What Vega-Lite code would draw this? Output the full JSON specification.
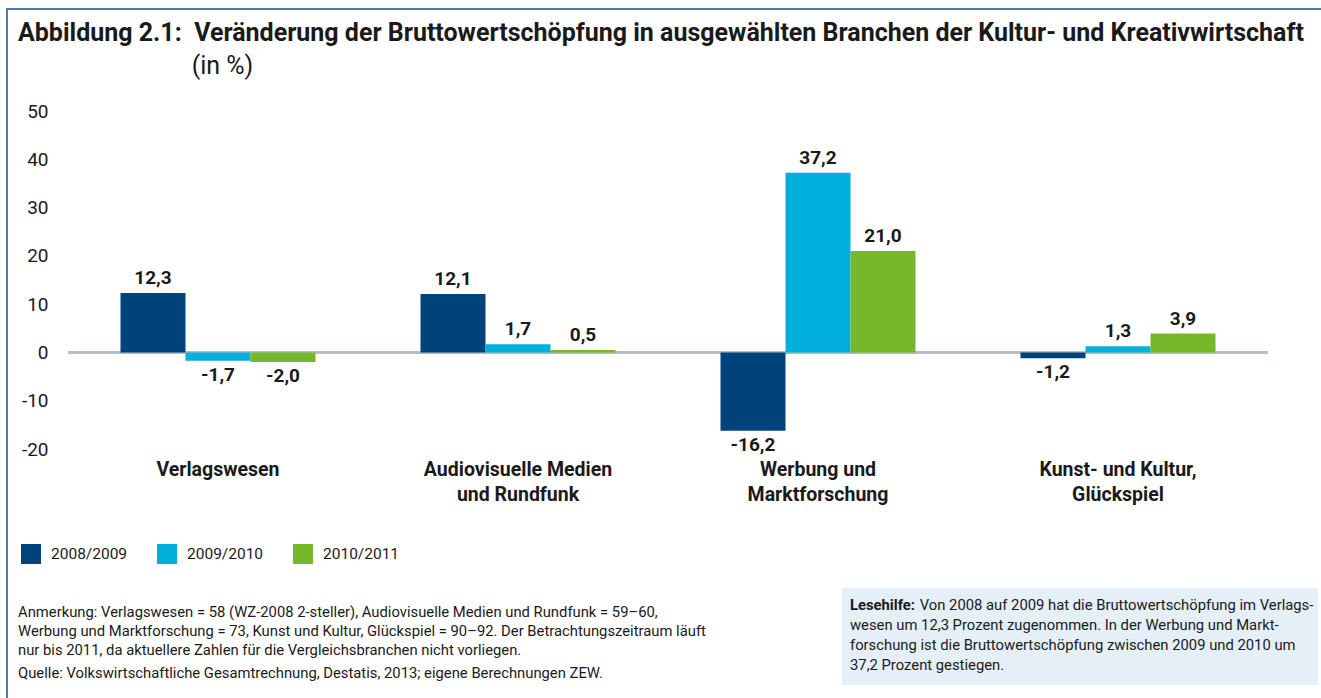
{
  "$schema": "https://vega.github.io/schema/vega-lite/v6.json",
  "padding": {"left": 6, "top": 8, "right": 0, "bottom": 0},
  "background": "white",
  "config": {
    "font": "Roboto",
    "view": {"stroke": null},
    "locale": {"number": {"decimal": ",", "thousands": ".", "grouping": [3], "currency": ["", " €"], "minus": "-"}}
  },
  "spacing": 0,
  "vconcat": [
    {"data": {"values": []}, "mark": "point", "width": 1330, "height": 2, "view": {"fill": "#4d7aa8", "stroke": null}},
    {
      "spacing": 10,
      "hconcat": [
        {"data": {"values": []}, "mark": "point", "width": 2, "height": 700, "view": {"fill": "#4d7aa8", "stroke": null}},
        {
          "spacing": 0,
          "vconcat": [
            {"data": {"values": []}, "mark": "point", "width": 1, "height": 11},
            {
              "spacing": 84,
              "vconcat": [
                {
                  "width": 1200,
                  "height": 338,
                  "title": {
                    "text": "Abbildung 2.1:\u00a0 Veränderung der Bruttowertschöpfung in ausgewählten Branchen der Kultur- und Kreativwirtschaft",
                    "subtitle": "\u200b\u00a0\u00a0\u00a0\u00a0\u00a0\u00a0\u00a0\u00a0\u00a0\u00a0\u00a0\u00a0\u00a0\u00a0\u00a0\u00a0\u00a0\u00a0\u00a0\u00a0\u00a0\u00a0\u00a0\u00a0\u00a0\u00a0\u00a0\u00a0(in %)",
                    "anchor": "start",
                    "frame": "group",
                    "dx": -50,
                    "fontSize": 25,
                    "fontWeight": "bold",
                    "color": "#1a1a1a",
                    "subtitleFontSize": 25,
                    "subtitleFontWeight": "normal",
                    "subtitleColor": "#1a1a1a",
                    "subtitlePadding": 8,
                    "offset": 23
                  },
                  "data": {
                    "values": [
                      {"branche": "Verlagswesen", "periode": "2008/2009", "wert": 12.3},
                      {"branche": "Verlagswesen", "periode": "2009/2010", "wert": -1.7},
                      {"branche": "Verlagswesen", "periode": "2010/2011", "wert": -2.0},
                      {"branche": "Audiovisuelle Medien und Rundfunk", "periode": "2008/2009", "wert": 12.1},
                      {"branche": "Audiovisuelle Medien und Rundfunk", "periode": "2009/2010", "wert": 1.7},
                      {"branche": "Audiovisuelle Medien und Rundfunk", "periode": "2010/2011", "wert": 0.5},
                      {"branche": "Werbung und Marktforschung", "periode": "2008/2009", "wert": -16.2},
                      {"branche": "Werbung und Marktforschung", "periode": "2009/2010", "wert": 37.2},
                      {"branche": "Werbung und Marktforschung", "periode": "2010/2011", "wert": 21.0},
                      {"branche": "Kunst- und Kultur, Glückspiel", "periode": "2008/2009", "wert": -1.2},
                      {"branche": "Kunst- und Kultur, Glückspiel", "periode": "2009/2010", "wert": 1.3},
                      {"branche": "Kunst- und Kultur, Glückspiel", "periode": "2010/2011", "wert": 3.9}
                    ]
                  },
                  "layer": [
                    {
                      "mark": {"type": "rule", "color": "#b5bdc3", "strokeWidth": 3},
                      "encoding": {
                        "y": {"datum": 0, "type": "quantitative", "scale": {"domain": [-20, 50], "nice": false},
                          "axis": {"values": [-20, -10, 0, 10, 20, 30, 40, 50], "title": null, "domain": false, "ticks": false, "labelPadding": 20, "labelFontSize": 19, "labelColor": "#1a1a1a", "gridColor": "#c9d0d6", "gridWidth": 1.5}}
                      }
                    },
                    {
                      "mark": {"type": "bar"},
                      "encoding": {
                        "x": {"field": "branche", "type": "nominal", "sort": null,
                          "scale": {"paddingInner": 0.35, "paddingOuter": 0.175},
                          "axis": {"title": null, "domain": false, "ticks": false, "labelAngle": 0, "labelFontSize": 19.5, "labelFontWeight": "bold", "labelColor": "#1a1a1a", "labelLineHeight": 25, "labelPadding": 11, "labelLimit": 0,
                            "labelExpr": "datum.value == 'Audiovisuelle Medien und Rundfunk' ? ['Audiovisuelle Medien', 'und Rundfunk'] : datum.value == 'Werbung und Marktforschung' ? ['Werbung und', 'Marktforschung'] : datum.value == 'Kunst- und Kultur, Glückspiel' ? ['Kunst- und Kultur,', 'Glückspiel'] : datum.value"}},
                        "xOffset": {"field": "periode", "type": "nominal", "sort": null, "scale": {"paddingInner": 0, "paddingOuter": 0}},
                        "y": {"field": "wert", "type": "quantitative"},
                        "color": {"field": "periode", "type": "nominal",
                          "scale": {"domain": ["2008/2009", "2009/2010", "2010/2011"], "range": ["#00437a", "#00afdb", "#77b82a"]},
                          "legend": {"title": null, "orient": "none", "legendX": 15, "legendY": 536, "direction": "horizontal", "symbolType": "square", "symbolSize": 400, "symbolStrokeWidth": 0, "symbolOpacity": 1, "labelFontSize": 15.5, "labelOffset": 10, "columnPadding": 29, "labelColor": "#1a1a1a", "padding": 0}}
                      }
                    },
                    {
                      "transform": [{"filter": "datum.wert >= 0"}],
                      "mark": {"type": "text", "baseline": "bottom", "dy": -5, "fontSize": 19, "fontWeight": "bold", "color": "#1a1a1a"},
                      "encoding": {
                        "x": {"field": "branche", "type": "nominal", "sort": null},
                        "xOffset": {"field": "periode", "type": "nominal", "sort": null},
                        "y": {"field": "wert", "type": "quantitative"},
                        "text": {"field": "wert", "type": "quantitative", "format": ".1f"}
                      }
                    },
                    {
                      "transform": [{"filter": "datum.wert < 0"}],
                      "mark": {"type": "text", "baseline": "top", "dy": 5, "fontSize": 19, "fontWeight": "bold", "color": "#1a1a1a"},
                      "encoding": {
                        "x": {"field": "branche", "type": "nominal", "sort": null},
                        "xOffset": {"field": "periode", "type": "nominal", "sort": null},
                        "y": {"field": "wert", "type": "quantitative"},
                        "text": {"field": "wert", "type": "quantitative", "format": ".1f"}
                      }
                    }
                  ]
                },
                {
                  "spacing": 24,
                  "hconcat": [
                    {
                      "data": {"values": []}, "mark": "point", "width": 750, "height": 10,
                      "title": {
                        "text": ["Anmerkung: Verlagswesen = 58 (WZ-2008 2-steller), Audiovisuelle Medien und Rundfunk = 59–60,", "Werbung und Marktforschung = 73, Kunst und Kultur, Glückspiel = 90–92. Der Betrachtungszeitraum läuft", "nur bis 2011, da aktuellere Zahlen für die Vergleichsbranchen nicht vorliegen."],
                        "subtitle": "Quelle: Volkswirtschaftliche Gesamtrechnung, Destatis, 2013; eigene Berechnungen ZEW.",
                        "orient": "bottom", "anchor": "start", "frame": "group", "offset": 7, "dx": -50,
                        "fontSize": 14.8, "fontWeight": "normal", "lineHeight": 19, "color": "#1a1a1a",
                        "subtitleFontSize": 14.8, "subtitleColor": "#1a1a1a", "subtitlePadding": 8
                      }
                    },
                    {
                      "data": {"values": []}, "mark": "point", "width": 476, "height": 97,
                      "view": {"fill": "#e4eff7", "stroke": null},
                      "title": {
                        "text": "Lesehilfe:",
                        "subtitle": ["\u200b\u00a0\u00a0\u00a0\u00a0\u00a0\u00a0\u00a0\u00a0\u00a0\u00a0\u00a0\u00a0\u00a0\u00a0\u00a0\u00a0\u00a0\u00a0\u00a0Von 2008 auf 2009 hat die Bruttowertschöpfung im Verlags-", "wesen um 12,3 Prozent zugenommen. In der Werbung und Markt-", "forschung ist die Bruttowertschöpfung zwischen 2009 und 2010 um", "37,2 Prozent gestiegen."],
                        "orient": "top", "anchor": "start", "frame": "group", "dx": 8, "offset": -85,
                        "fontSize": 14.8, "fontWeight": "bold", "color": "#1a1a1a",
                        "subtitleFontSize": 14.8, "subtitleFontWeight": "normal", "subtitleColor": "#1a1a1a", "subtitleLineHeight": 20, "subtitlePadding": -14.8
                      }
                    }
                  ]
                }
              ]
            }
          ]
        }
      ]
    }
  ]
}
